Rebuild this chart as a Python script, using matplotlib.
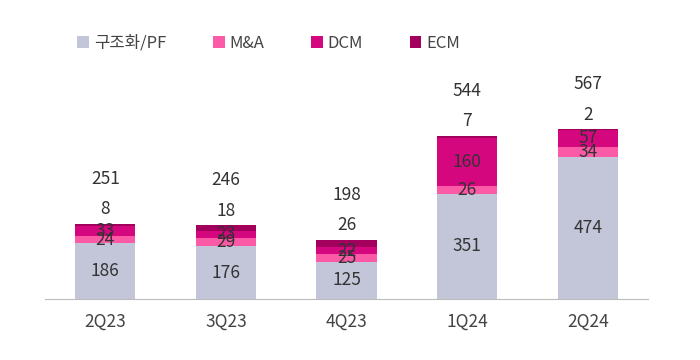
import matplotlib.pyplot as plt
import numpy as np

plt.rcParams['font.family'] = ['Noto Sans CJK KR', 'DejaVu Sans']

quarters = ["2Q23", "3Q23", "4Q23", "1Q24", "2Q24"]
pf = [186, 176, 125, 351, 474]
mna = [24, 29, 25, 26, 34]
dcm = [33, 23, 22, 160, 57]
ecm = [8, 18, 26, 7, 2]
totals = [251, 246, 198, 544, 567]

names = ["구조화/PF", "M&A", "DCM", "ECM"]
colors = ["#c3c6d8", "#fb5aa6", "#d5077f", "#a3005e"]
txt = "#333333"

fig = plt.figure(figsize=(7, 3.6), dpi=100)
ax = fig.add_axes([45/700, 1 - 299/360, 603/700, 239/360])

x = np.arange(len(quarters))
series = [pf, mna, dcm, ecm]
bottom = np.zeros(len(quarters))
for vals, name, c in zip(series, names, colors):
    ax.bar(x, vals, 0.5, bottom=bottom, color=c, label=name)
    if name != "ECM":
        for xi, b, v in zip(x, bottom, vals):
            ax.text(xi, b + v / 2, str(v), ha="center", va="center",
                    fontsize=12.5, color=txt)
    bottom += np.array(vals)

for xi, top, e, t in zip(x, bottom, ecm, totals):
    ax.text(xi, top + 48, str(e), ha="center", va="center", fontsize=12.5, color=txt)
    ax.text(xi, top + 150, str(t), ha="center", va="center", fontsize=12.5, color=txt)

ax.set_xlim(-0.5, 4.5)
ax.set_ylim(0, 797)
ax.set_xticks(x)
ax.set_xticklabels(quarters, fontsize=12.5, color="#444444")
ax.tick_params(axis="x", length=0, pad=10)
ax.set_yticks([])
for s in ["top", "right", "left"]:
    ax.spines[s].set_visible(False)
ax.spines["bottom"].set_color("#bbbbbb")

fig.legend(loc="upper left", bbox_to_anchor=(0.089, 0.945), ncol=4, frameon=False,
           fontsize=12, handlelength=0.7, handleheight=0.7, handletextpad=0.3,
           columnspacing=2.8, labelcolor="#444444")

fig.savefig("out.png")
